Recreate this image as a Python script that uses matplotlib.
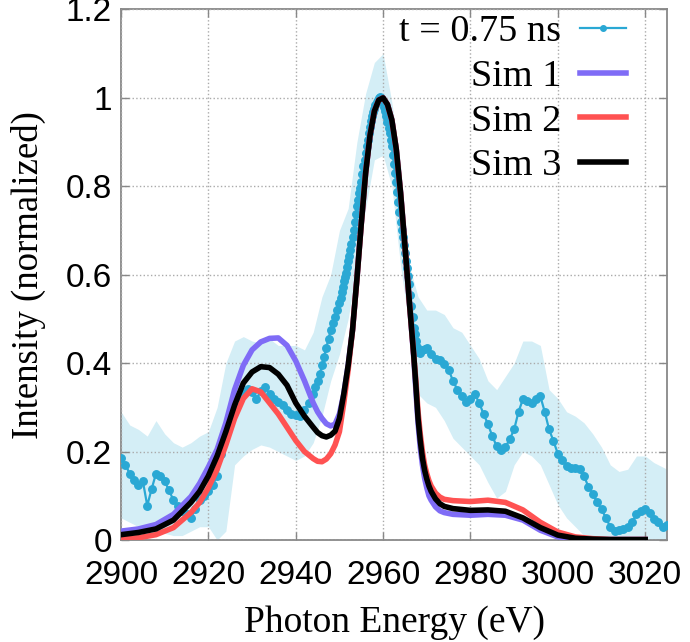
import matplotlib
matplotlib.use('Agg')
import matplotlib.pyplot as plt

# measured spectrum, t = 0.75 ns (finer steps where the peak is steep)
exp_x = (list(range(2900, 2944))
         + [2944 + 0.5 * i for i in range(12)]
         + [2950 + 0.25 * i for i in range(72)]
         + [2968 + 0.5 * i for i in range(4)]
         + list(range(2970, 3026)))
exp_y = ([0.185, 0.17, 0.15, 0.135, 0.125, 0.133, 0.078, 0.115, 0.15, 0.145,
          0.133, 0.112, 0.09, 0.078, 0.065, 0.058, 0.05, 0.07, 0.09, 0.1,
          0.11, 0.125, 0.145, 0.195, 0.245, 0.285, 0.30, 0.325, 0.335, 0.342,
          0.335, 0.318, 0.338, 0.345, 0.33, 0.32, 0.312, 0.305, 0.295, 0.285,
          0.282, 0.28, 0.295, 0.31]
         + [0.33, 0.345, 0.36, 0.375, 0.395, 0.415, 0.435, 0.455, 0.475, 0.49,
            0.505, 0.52]
         + [0.535, 0.548, 0.56, 0.572, 0.585, 0.595, 0.605, 0.618,
            0.63, 0.642, 0.655, 0.67, 0.685, 0.70, 0.72, 0.738,
            0.755, 0.77, 0.785, 0.797, 0.81, 0.828, 0.845, 0.86,
            0.875, 0.89, 0.905, 0.92, 0.935, 0.948, 0.96, 0.968,
            0.975, 0.983, 0.99, 0.996, 1.0, 1.002, 1.0, 0.996,
            0.99, 0.98, 0.97, 0.958, 0.945, 0.932, 0.92, 0.905,
            0.89, 0.87, 0.85, 0.83, 0.81, 0.788, 0.765, 0.742,
            0.72, 0.702, 0.685, 0.668, 0.65, 0.632, 0.615, 0.598,
            0.58, 0.555, 0.53, 0.505, 0.48, 0.465, 0.45, 0.437]
         + [0.425, 0.423, 0.43, 0.433]
         + [0.435, 0.42, 0.41, 0.408, 0.398, 0.385, 0.36, 0.34, 0.326, 0.313,
            0.32, 0.33, 0.31, 0.285, 0.262, 0.235, 0.212, 0.204, 0.21, 0.228,
            0.25, 0.29, 0.318, 0.315, 0.31, 0.318, 0.325, 0.29, 0.25, 0.224,
            0.195, 0.18, 0.168, 0.163, 0.162, 0.16, 0.145, 0.12, 0.105, 0.085,
            0.07, 0.05, 0.03, 0.02, 0.022, 0.025, 0.03, 0.04, 0.058, 0.066,
            0.07, 0.06, 0.048, 0.04, 0.03, 0.035])

# error band of the measurement
band_x = list(range(2900, 3026, 2)) + [3025]
band_hi = [0.29, 0.26, 0.25, 0.235, 0.27, 0.24, 0.22, 0.21, 0.22, 0.235,
           0.245, 0.30, 0.40, 0.45, 0.46, 0.45, 0.445, 0.455, 0.44, 0.44,
           0.44, 0.43, 0.47, 0.55, 0.60, 0.70, 0.75, 0.90, 1.01, 1.08,
           1.10, 0.99, 0.85, 0.62, 0.55, 0.52, 0.52, 0.51, 0.48, 0.47,
           0.44, 0.41, 0.36, 0.34, 0.37, 0.40, 0.45, 0.45, 0.44, 0.34,
           0.32, 0.29, 0.28, 0.265, 0.24, 0.21, 0.17, 0.155, 0.16, 0.19,
           0.19, 0.175, 0.165, 0.16]
band_lo = [0.05, 0.04, 0.03, 0.02, 0.02, 0.015, 0.01, 0.01, 0.02, 0.03,
           0.03, 0.0, 0.02, 0.17, 0.19, 0.205, 0.215, 0.21, 0.20, 0.19,
           0.18, 0.19, 0.22, 0.28, 0.36, 0.42, 0.50, 0.62, 0.75, 0.86,
           0.87, 0.80, 0.62, 0.48, 0.33, 0.31, 0.30, 0.27, 0.23, 0.21,
           0.19, 0.17, 0.13, 0.095, 0.11, 0.17, 0.20, 0.19, 0.17, 0.125,
           0.08, 0.05, 0.03, 0.01, 0.0, 0.0, 0.0, 0.0, 0.0, 0.0,
           0.0, 0.0, 0.0, 0.0]

# simulations
sim_x = [2900, 2904, 2908, 2912, 2916, 2918, 2920, 2922, 2924, 2926,
         2928, 2930, 2932, 2934, 2936, 2938, 2940, 2942, 2944, 2945,
         2946, 2947, 2948, 2949, 2950, 2951, 2952, 2953, 2954, 2955,
         2956, 2957, 2958, 2959, 2960, 2961, 2962, 2963, 2964, 2965,
         2966, 2967, 2967.5, 2968, 2968.5, 2969, 2969.5, 2970, 2970.5, 2971,
         2972, 2973, 2974, 2976, 2980, 2984, 2988, 2992, 2996, 3000,
         3004, 3008, 3012, 3016, 3020]
sim1 = [0.02, 0.025, 0.035, 0.058, 0.098, 0.128, 0.165, 0.205, 0.265, 0.34,
        0.395, 0.43, 0.448, 0.456, 0.457, 0.44, 0.405, 0.36, 0.31, 0.29,
        0.275, 0.263, 0.258, 0.262, 0.285, 0.33, 0.395, 0.475, 0.59, 0.715,
        0.83, 0.915, 0.97, 0.995, 1.0, 0.985, 0.95, 0.885, 0.785, 0.665,
        0.54, 0.415, 0.34, 0.265, 0.21, 0.17, 0.14, 0.118, 0.10, 0.09,
        0.075, 0.066, 0.062, 0.058, 0.056, 0.058, 0.056, 0.045, 0.022, 0.007,
        0.002, 0.001, 0.001, 0.001, 0.001]
sim2 = [0.002, 0.005, 0.012, 0.028, 0.062, 0.085, 0.118, 0.16, 0.215, 0.275,
        0.32, 0.342, 0.335, 0.31, 0.285, 0.255, 0.225, 0.2, 0.184, 0.178,
        0.177, 0.183, 0.195, 0.215, 0.245, 0.31, 0.385, 0.475, 0.59, 0.715,
        0.83, 0.915, 0.97, 0.995, 1.0, 0.985, 0.95, 0.885, 0.785, 0.665,
        0.54, 0.42, 0.36, 0.29, 0.24, 0.20, 0.17, 0.15, 0.134, 0.122,
        0.106, 0.097, 0.092, 0.089, 0.087, 0.09, 0.085, 0.068, 0.04, 0.018,
        0.007, 0.003, 0.001, 0.001, 0.001]
sim3 = [0.012, 0.017, 0.025, 0.045, 0.085, 0.11, 0.145, 0.19, 0.245, 0.305,
        0.355, 0.38, 0.392, 0.39, 0.375, 0.35, 0.31, 0.28, 0.255, 0.243,
        0.236, 0.233, 0.237, 0.246, 0.275, 0.33, 0.395, 0.475, 0.59, 0.715,
        0.83, 0.915, 0.97, 0.995, 1.0, 0.985, 0.95, 0.885, 0.785, 0.665,
        0.54, 0.42, 0.35, 0.275, 0.225, 0.185, 0.158, 0.138, 0.122, 0.11,
        0.093, 0.082, 0.076, 0.071, 0.067, 0.068, 0.065, 0.05, 0.028, 0.011,
        0.004, 0.002, 0.001, 0.001, 0.001]

x_ticks = [2900, 2920, 2940, 2960, 2980, 3000, 3020]
y_ticks = [0, 0.2, 0.4, 0.6, 0.8, 1.0, 1.2]
y_labels = ['0', '0.2', '0.4', '0.6', '0.8', '1', '1.2']

tickfont = 'Liberation Sans'
serif = 'Liberation Serif'

fig = plt.figure(figsize=(6.9, 6.42), dpi=100)
ax = fig.add_axes([0.1754, 0.1589, 0.7913, 0.8264])

ax.fill_between(band_x, band_lo, band_hi, color='#d4eef6', lw=0, zorder=1)
ax.plot(exp_x, exp_y, '-o', color='#2aa8d4', lw=1.6, ms=5.4, zorder=3,
        label='t = 0.75 ns')
ax.plot(sim_x, sim1, color='#7f6cf6', lw=4, zorder=4, label='Sim 1')
ax.plot(sim_x, sim2, color='#ff5252', lw=4, zorder=5, label='Sim 2')
ax.plot(sim_x, sim3, color='black', lw=4, zorder=6, label='Sim 3')

ax.set_xlim(2900, 3025)
ax.set_ylim(0, 1.2)
ax.set_xticks(x_ticks)
ax.set_yticks(y_ticks)
ax.set_yticklabels(y_labels)
ax.grid(True, color='#aaaaaa', linestyle=':', lw=1)
ax.set_axisbelow(False)

for s in ax.spines.values():
    s.set_color('#888888')
    s.set_linewidth(1.3)
ax.tick_params(direction='in', top=True, right=True, length=6, width=1,
               color='#888888', labelsize=24)
ax.tick_params(axis='x', pad=14.5)
ax.tick_params(axis='y', pad=6.5)
for lab in ax.get_xticklabels() + ax.get_yticklabels():
    lab.set_family(tickfont)

ax.set_xlabel('Photon Energy (eV)', family=serif, fontsize=27)
ax.xaxis.label.set_va('center')
ax.xaxis.set_label_coords(0.5, -0.155)
ax.set_ylabel('Intensity (normalized)', family=serif, fontsize=26.5)
ax.yaxis.label.set_va('center')
ax.yaxis.set_label_coords(-0.170, 0.5)

leg = ax.legend(loc='upper right', bbox_to_anchor=(0.925, 0.99),
                frameon=False, markerfirst=False, numpoints=1,
                prop={'family': serif, 'size': 27.5}, handlelength=1.2,
                handletextpad=0.5, labelspacing=0.26, borderpad=0,
                borderaxespad=0)
leg.get_lines()[0].set_markersize(4)
leg.set_zorder(10)

fig.savefig('out.png', dpi=100)
